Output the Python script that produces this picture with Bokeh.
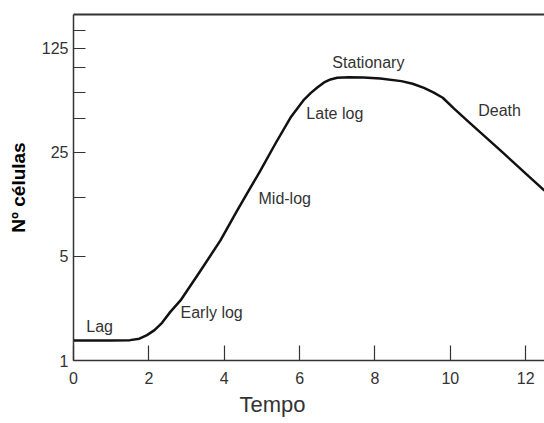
from bokeh.plotting import figure
from bokeh.models import FixedTicker, LinearAxis, Range1d, Title, ColumnDataSource
from bokeh.core.properties import value
from bokeh.embed import file_html
from bokeh.resources import INLINE

# Growth curve (time, number of cells on log scale)
tempo = [0, 0.5, 1.0, 1.5, 1.75, 1.95, 2.15, 2.35, 2.57, 2.84, 3.37, 3.9, 4.35,
         4.7, 4.96, 5.36, 5.76, 6.1, 6.3, 6.47, 6.65, 6.82, 7.0, 7.3, 7.7,
         8.14, 8.7, 9.0, 9.3, 9.55, 9.8, 10.1, 10.53, 11.33, 12.12, 12.5]
celulas = [1.36, 1.36, 1.36, 1.37, 1.40, 1.48, 1.60, 1.79, 2.12, 2.53, 4.0,
           6.4, 10.2, 14.5, 18.8, 28.6, 42.7, 55.6, 62.5, 68, 73.5, 77, 79,
           79.5, 79.3, 78, 75, 72, 67.5, 63, 58, 49, 39, 25.7, 16.9, 13.8]

# Phase labels
phase_names = ["Lag", "Early log", "Mid-log", "Late log", "Stationary", "Death"]
phase_x = [0.34, 2.84, 4.91, 6.18, 6.87, 10.74]
phase_y = [1.69, 2.10, 12.2, 45.5, 100, 47.6]

x_ticks = [0, 2, 4, 6, 8, 10, 12]
y_ticks = [1, 5, 25, 125]
y_tick_labels = ["1", "5", "25", "125"]
y_minor_ticks = [12.4, 42, 63, 92, 165]

FONT = "Liberation Sans"
GREY = "#333333"

p = figure(width=544, height=423, x_range=Range1d(0, 12.5), y_range=Range1d(1, 210),
           y_axis_type="log", output_backend="svg", toolbar_location=None,
           min_border_left=73, min_border_right=0, min_border_top=14,
           min_border_bottom=63)
p.grid.visible = False
p.outline_line_color = None
p.background_fill_color = "white"
p.border_fill_color = "white"

# x axis
xa = p.xaxis[0]
xa.ticker = FixedTicker(ticks=x_ticks, minor_ticks=[])
xa.major_tick_in = 15
xa.major_tick_out = 0
xa.minor_tick_line_color = None
xa.axis_line_color = GREY
xa.axis_line_width = 1.5
xa.major_tick_line_color = GREY
xa.major_tick_line_width = 1.2
xa.major_label_text_font = FONT
xa.major_label_text_font_size = "16px"
xa.major_label_text_color = GREY
xa.major_label_standoff = 11

# y axis
ya = p.yaxis[0]
ya.ticker = FixedTicker(ticks=y_ticks, minor_ticks=y_minor_ticks)
ya.major_label_overrides = {t: s for t, s in zip(y_ticks, y_tick_labels)}
ya.major_tick_in = 12
ya.major_tick_out = 0
ya.minor_tick_in = 12
ya.minor_tick_out = 0
ya.axis_line_color = GREY
ya.axis_line_width = 1.5
ya.major_tick_line_color = GREY
ya.minor_tick_line_color = GREY
ya.major_tick_line_width = 1.2
ya.minor_tick_line_width = 1.2
ya.major_label_text_font = FONT
ya.major_label_text_font_size = "16px"
ya.major_label_text_color = GREY
ya.major_label_standoff = 5
ya.axis_label = "Nº células"
ya.axis_label_text_font = FONT
ya.axis_label_text_font_size = "19px"
ya.axis_label_text_font_style = "bold"
ya.axis_label_text_color = "black"
ya.axis_label_standoff = 10

# top frame line
top = LinearAxis(ticker=FixedTicker(ticks=[]), major_tick_line_color=None,
                 minor_tick_line_color=None, major_label_standoff=0,
                 major_tick_out=0, major_tick_in=0, minor_tick_out=0,
                 axis_line_color=GREY, axis_line_width=2)
p.add_layout(top, "above")

# curve
p.line(tempo, celulas, line_color="#111111", line_width=2.5, line_join="round")

# phase labels
src = ColumnDataSource(dict(x=phase_x, y=phase_y, t=phase_names))
p.text(x="x", y="y", text="t", source=src, text_font=value(FONT),
       text_font_size="16px", text_color=GREY, text_align="left",
       text_baseline="middle")

# x axis title
p.add_layout(Title(text="Tempo", align="left", offset=166, standoff=6,
                   text_font=FONT, text_font_size="22px",
                   text_font_style="normal", text_color=GREY), "below")

open("out.html", "w").write(file_html(p, INLINE))
